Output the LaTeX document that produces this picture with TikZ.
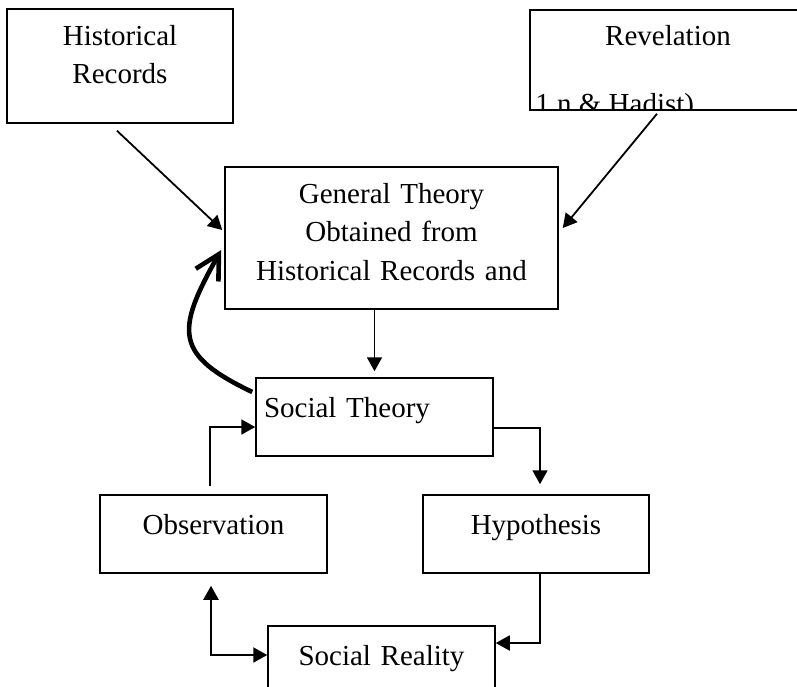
\documentclass[tikz,border=0pt]{standalone}
\usepackage{fontspec}
\setmainfont{Liberation Serif}
\usepackage{tikz}
\usetikzlibrary{arrows.meta}

\tikzset{
	box/.style={draw, line width=0.75pt, align=center, font=\fontsize{14.5}{19.25}\selectfont},
	flow/.style={line width=0.9pt, -{Triangle[length=7pt,width=7.5pt]}},
}

\begin{document}
\begin{tikzpicture}[x=0.5pt,y=0.5pt]
			\tikzstyle{every node}+=[inner sep=0pt]
			\useasboundingbox (0,0) rectangle (797,-686);
			\node [box, text width=113pt, text height=18pt, text depth=39pt] (hist) at (120,-66) {Historical\\Records};
			\node [box, text width=138pt, text height=17.5pt, text depth=32.5pt] (rev) at (668,-60) {Revelation};
			\begin{scope}
			\clip (rev.south west) rectangle (rev.north east);
			\node [anchor=base west, font=\fontsize{14.5}{19.25}\selectfont] (revtail) at (535,-113) {1 n \& Hadist)};
			\end{scope}
			\node [box, text width=166.5pt, text height=18pt, text depth=53pt] (gen) at (391.5,-238) {General Theory\\Obtained from\\Historical Records and};
			\node [box, inner xsep=4pt, text width=110.5pt, align=left, text height=19.5pt, text depth=19.5pt] (soc) at (374.5,-417) {Social Theory};
			\node [box, text width=113.5pt, text height=19.5pt, text depth=19.5pt] (obs) at (213.5,-534) {Observation};
			\node [box, text width=113pt, text height=19.5pt, text depth=19.5pt] (hyp) at (536,-534) {Hypothesis};
			\node [box, text width=113.5pt, text height=19.5pt, text depth=19.5pt] (real) at (381.5,-665) {Social Reality};
			\draw [flow] ([xshift=-1.5pt,yshift=-3.5pt]hist.south) -- ([xshift=-1pt,yshift=4pt]gen.west);
			\draw [flow] ([xshift=-5.5pt,yshift=-1.5pt]rev.south) -- ([xshift=2pt,yshift=5pt]gen.east);
			\draw [flow, shorten >=3pt] (gen.south -| soc.north) -- (soc.north);
			\draw [flow] ([xshift=-1.75pt,yshift=4pt]obs.north) |- ([yshift=-5pt]soc.west);
			\draw [flow] ([yshift=-5.5pt]soc.east) -| ([xshift=2pt,yshift=5pt]hyp.north);
			\draw [flow] ([xshift=2pt]hyp.south) |- ([yshift=11pt]real.east);
			\draw [flow, line width=1.1pt, {Triangle[length=7pt,width=7.5pt]}-{Triangle[length=7pt,width=7.5pt]}] ([xshift=-1.25pt,yshift=-6pt]obs.south) |- ([yshift=5pt]real.west);
			\draw [line width=2.3pt, -{Straight Barb[length=12pt,width=13pt]}] ([xshift=-1.5pt,yshift=12.5pt]soc.west) .. controls (175,-355) and (175,-332) .. ([xshift=-1.5pt,yshift=-6pt]gen.west);
\end{tikzpicture}
\end{document}
